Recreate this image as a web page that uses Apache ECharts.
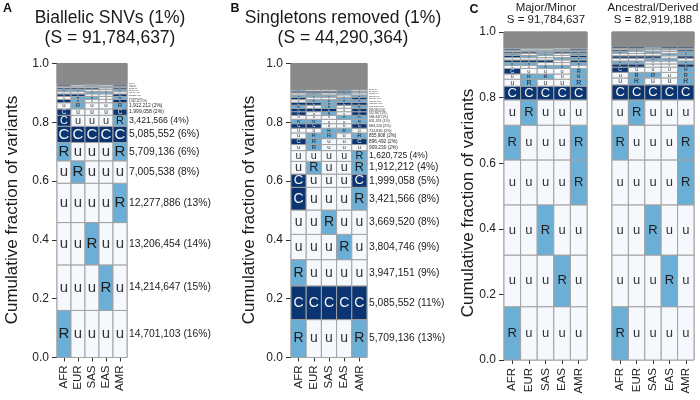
<!DOCTYPE html>
<html>
<head>
<meta charset="utf-8">
<script src="https://cdn.jsdelivr.net/npm/echarts@6/dist/echarts.min.js"></script>
<style>
html, body { margin: 0; padding: 0; background: #fff; }
#chart { width: 700px; height: 400px; }
</style>
</head>
<body>
<div id="chart"></div>
<script>
const pops = ['AFR', 'EUR', 'SAS', 'EAS', 'AMR']

// rows listed bottom first, one letter per population (u / R / C)
// A: biallelic SNVs
const totalA = 91784637
const patternsA = ['Ruuuu', 'uuuRu', 'uuRuu', 'uuuuR', 'uRuuu', 'RuuuR', 'CCCCC', 'CuuuR', 'CuuuC', 'uRuuR',
    'CRuuC', 'uRRuR', 'CCuuC', 'uuRRu', 'RRuuR', 'CCCuC', 'uuuRR', 'CuRuC', 'CCRCC']
const countsA = [14701103, 14214647, 13206454, 12277886, 7005538, 5709136, 5085552, 3421566, 1999058, 1912212,
    1042117, 921386, 803552, 712409, 634871, 560233, 498120, 441067, 396554]

// B: singletons removed
const totalB = 44290364
const patternsB = ['RuuuR', 'CCCCC', 'Ruuuu', 'uuuRu', 'uuRuu', 'CuuuR', 'CuuuC', 'uRuuR', 'uuuuR', 'uRuuu',
    'CRuuC', 'uRRuR', 'uuRRu', 'CCuuC', 'RRuuR', 'uuuRR', 'CuRuC', 'CCCuC', 'RuRuR', 'CCRCC',
    'uRRRR', 'CuuRC', 'RRRuR', 'uRuRu', 'CCCCR', 'RuuRu']
const countsB = [5709136, 5085552, 3947151, 3804746, 3669520, 3421566, 1999058, 1912212, 1620725, 909230,
    896492, 855908, 712845, 683120, 651374, 598442, 552907, 509316, 471085, 433660,
    402118, 371904, 339271, 310552, 284037, 259810]

// C: major/minor
const totalMM = 91784637
const patternsMM = ['Ruuuu', 'uuuRu', 'uuRuu', 'uuuuR', 'RuuuR', 'uRuuu', 'CCCCC', 'uRuuR', 'uRRuR', 'CuuuR',
    'uuRRu', 'RRuuR', 'CCCuC', 'uuuRR', 'CRuuC', 'RuRuR', 'CCRCC', 'uRRRR', 'CuuRC', 'RRRuR']
const countsMM = [14915206, 14456318, 14043790, 12575118, 9729402, 7067417, 3855033, 1928174, 1469556, 1560372,
    842117, 790402, 731255, 655380, 598761, 540093, 488214, 431770, 402566, 395118]

// C: ancestral/derived
const totalAD = 82919188
const patternsAD = ['Ruuuu', 'uuuRu', 'uuRuu', 'uuuuR', 'RuuuR', 'uRuuu', 'CCCCC', 'uRuuR', 'uRRuR', 'CuuuR',
    'CCuuC', 'RRuuR', 'uuRRu', 'CCCuC', 'uuuRR', 'RuRuR', 'CRuuC', 'uRRRR', 'CCRCC']
const countsAD = [13474368, 13059772, 12686636, 11359929, 8789434, 6384777, 3814283, 1741302, 1409626, 1326707,
    802551, 743018, 690245, 622871, 571306, 498117, 452640, 410229, 377952]

const letters = ['u', 'R', 'C']
const fills = ['#f5f9fd', '#6baed6', '#0a3572', '#8a8a8a']
const textColors = ['#333', '#1c1c1c', '#f4f4f4']
const font = '"Liberation Sans", Arial, sans-serif'

function buildCells(patterns, counts, total){
    const cells = []
    let cum = 0
    patterns.forEach((p, i) => {
        const y0 = cum / total
        cum += counts[i]
        const y1 = cum / total
        for(let c = 0; c < pops.length; c++){
            cells.push([c, y0, y1, letters.indexOf(p[c])])
        }
    })
    // what is left above the listed patterns
    for(let c = 0; c < pops.length; c++){
        cells.push([c, cum / total, 1, 3])
    }
    return cells
}

function buildRows(counts, total){
    const rows = []
    let cum = 0
    counts.forEach(v => {
        rows.push([4, cum / total, (cum + v) / total])
        cum += v
    })
    return rows
}

function rowLabels(counts, total){
    return counts.map(v => `${v.toLocaleString('en-US')} (${Math.round(v / total * 100)}%)`)
}

function cellRenderer(maxFont){
    return function(params, api){
        const col = api.value(0)
        const p0 = api.coord([col, api.value(1)])
        const p1 = api.coord([col, api.value(2)])
        const w = api.size([1, 0])[0]
        const h = p0[1] - p1[1]
        const kind = api.value(3)
        const rect = {
            type: 'rect',
            shape: { x: p0[0] - w / 2, y: p1[1], width: w, height: h },
            style: { fill: fills[kind], stroke: kind === 3 ? fills[3] : '#a2a2a2', lineWidth: 1 }
        }
        const fs = Math.min(maxFont, h * 1.0)
        if(kind === 3 || fs < 1.5) return rect
        return {
            type: 'group',
            children: [rect, {
                type: 'text',
                x: p0[0], y: p1[1] + h / 2,
                style: {
                    text: letters[kind], fontSize: fs, fontFamily: font,
                    fill: textColors[kind], align: 'center', verticalAlign: 'middle'
                }
            }]
        }
    }
}

function labelRenderer(labels){
    return function(params, api){
        const bot = api.coord([4, api.value(1)])
        const top = api.coord([4, api.value(2)])
        const w = api.size([1, 0])[0]
        const h = bot[1] - top[1]
        return {
            type: 'text',
            x: bot[0] + w / 2 + 2, y: (top[1] + bot[1]) / 2,
            style: {
                text: labels[params.dataIndex], fontSize: Math.min(10.3, h * 0.8), fontFamily: font,
                fill: '#222', align: 'left', verticalAlign: 'middle'
            }
        }
    }
}

const grids = [
    { left: 57, top: 63.5, width: 70, height: 294 },
    { left: 291, top: 63.5, width: 76, height: 294 },
    { left: 504, top: 32, width: 83, height: 328 },
    { left: 612, top: 32, width: 82, height: 328 }
]

const xAxes = grids.map((g, i) => ({
    type: 'category', gridIndex: i, data: pops,
    axisLine: { show: false },
    axisTick: { show: true, alignWithLabel: true, interval: 0, length: 4, lineStyle: { color: '#333' } },
    axisLabel: { rotate: 90, interval: 0, fontSize: 11.5, color: '#222', margin: 8, fontFamily: font }
}))

const yAxes = grids.map((g, i) => ({
    type: 'value', gridIndex: i, min: 0, max: 1, interval: 0.2,
    splitLine: { show: false },
    axisLine: { show: false },
    axisTick: { show: i !== 3, length: 5, lineStyle: { color: '#333' } },
    axisLabel: {
        show: i !== 3, fontSize: 12, color: '#222', margin: 8, fontFamily: font,
        formatter: v => v.toFixed(1)
    }
}))

function cellSeries(idx, patterns, counts, total, maxFont){
    return {
        type: 'custom', xAxisIndex: idx, yAxisIndex: idx,
        renderItem: cellRenderer(maxFont),
        encode: { x: 0, y: [1, 2] },
        data: buildCells(patterns, counts, total),
        silent: true
    }
}

function labelSeries(idx, counts, total){
    return {
        type: 'custom', xAxisIndex: idx, yAxisIndex: idx,
        renderItem: labelRenderer(rowLabels(counts, total)),
        encode: { x: 0, y: [1, 2] },
        data: buildRows(counts, total),
        silent: true
    }
}

const yName = 'Cumulative fraction of variants'
const txt = (x, y, text, size, extra) => Object.assign({
    type: 'text', x, y,
    style: { text, fontSize: size, fontFamily: font, fill: '#1a1a1a', align: 'center', verticalAlign: 'middle' }
}, extra || {})
const panelTag = (x, y, text) => ({
    type: 'text', x, y,
    style: { text, fontSize: 12.5, fontWeight: 'bold', fontFamily: font, fill: '#111', align: 'center', verticalAlign: 'middle' }
})

const graphic = [
    panelTag(7.5, 9, 'A'),
    panelTag(235, 9, 'B'),
    panelTag(474, 9.5, 'C'),
    txt(110, 18, 'Biallelic SNVs (1%)', 17.5),
    txt(110, 38, '(S = ' + totalA.toLocaleString('en-US') + ')', 17.5),
    txt(343, 18, 'Singletons removed (1%)', 17.5),
    txt(343, 38, '(S = ' + totalB.toLocaleString('en-US') + ')', 17.5),
    txt(546, 8, 'Major/Minor', 11.5),
    txt(546, 20, 'S = ' + totalMM.toLocaleString('en-US'), 11.5),
    txt(653, 8, 'Ancestral/Derived', 11.5),
    txt(653, 20, 'S = ' + totalAD.toLocaleString('en-US'), 11.5),
    txt(12, 210, yName, 17, { rotation: Math.PI / 2 }),
    txt(249, 210, yName, 17, { rotation: Math.PI / 2 }),
    txt(468, 203, yName, 17, { rotation: Math.PI / 2 })
]

const chart = echarts.init(document.getElementById('chart'), null, { renderer: 'canvas' })
chart.setOption({
    animation: false,
    grid: grids.map(g => Object.assign({ show: true, borderColor: '#999', borderWidth: 1, backgroundColor: 'transparent' }, g)),
    xAxis: xAxes,
    yAxis: yAxes,
    graphic,
    series: [
        cellSeries(0, patternsA, countsA, totalA, 15),
        labelSeries(0, countsA, totalA),
        cellSeries(1, patternsB, countsB, totalB, 14),
        labelSeries(1, countsB, totalB),
        cellSeries(2, patternsMM, countsMM, totalMM, 13),
        cellSeries(3, patternsAD, countsAD, totalAD, 13)
    ]
})
</script>
</body>
</html>
